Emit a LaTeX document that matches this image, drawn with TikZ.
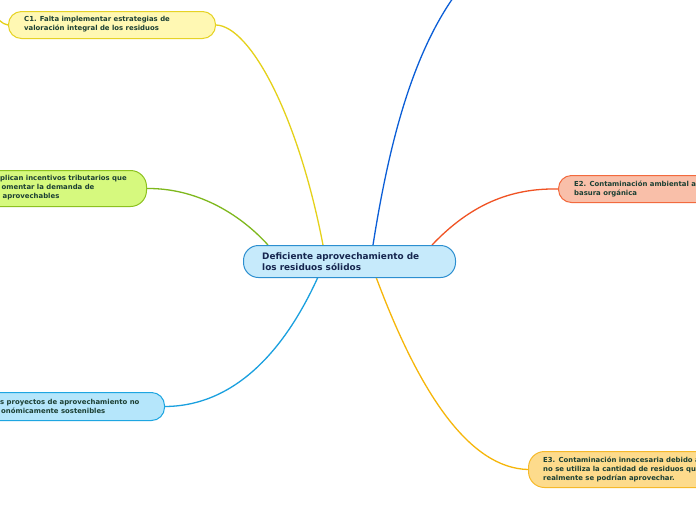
\documentclass[tikz,border=0pt]{standalone}
\usepackage{fontspec}
\setmainfont{DejaVu Sans}
\definecolor{txt}{HTML}{1B3F33}
\definecolor{maintxt}{HTML}{16264F}
\definecolor{cOneFill}{HTML}{FFF8B3}
\definecolor{cOneLine}{HTML}{E6D325}
\definecolor{cOneConn}{HTML}{E5D11A}
\definecolor{grFill}{HTML}{D6F97E}
\definecolor{grLine}{HTML}{8DC21F}
\definecolor{grConn}{HTML}{7EB81C}
\definecolor{mainFill}{HTML}{C6EAFB}
\definecolor{mainLine}{HTML}{2C8FD0}
\definecolor{eTwoFill}{HTML}{F9BFA9}
\definecolor{eTwoLine}{HTML}{F26A3E}
\definecolor{eTwoConn}{HTML}{F05223}
\definecolor{blFill}{HTML}{B5E6FB}
\definecolor{blLine}{HTML}{1EA6E1}
\definecolor{blConn}{HTML}{1AA0DF}
\definecolor{eThFill}{HTML}{FDDB8C}
\definecolor{eThLine}{HTML}{F6B92A}
\definecolor{eThConn}{HTML}{F6B60A}
\definecolor{dkConn}{HTML}{0B5ED7}
\tikzset{
  box/.style={rounded corners=13pt, line width=1pt, inner sep=0pt},
  childtxt/.style={font=\fontsize{6.9}{9}\selectfont\bfseries, text=txt, align=left, inner sep=0pt},
  maintext/.style={font=\fontsize{8.9}{11}\selectfont\bfseries, text=maintxt, align=left, inner sep=0pt},
  conn/.style={line width=1.3pt}
}
\begin{document}
\begin{tikzpicture}[x=1pt,y=-1pt]
\useasboundingbox (0,0) rectangle (696,520);
\clip (0,0) rectangle (696,520);
\fill[white] (0,0) rectangle (696,520);
% boxes
\node[box, draw=cOneLine, fill=cOneFill, minimum width=207pt, minimum height=27pt, anchor=north west] (c1) at (8,11) {};
\node[box, rounded corners=16pt, draw=grLine, fill=grFill, minimum width=207pt, minimum height=36pt, anchor=north east] (c2) at (147,170) {};
\node[box, draw=eTwoLine, fill=eTwoFill, minimum width=207pt, minimum height=27pt, anchor=north west] (e2) at (558,175) {};
\node[box, draw=blLine, fill=blFill, minimum width=207pt, minimum height=28pt, anchor=north east] (c3) at (165,392) {};
\node[box, rounded corners=16pt, draw=eThLine, fill=eThFill, minimum width=207pt, minimum height=36pt, anchor=north west] (e3) at (528,451) {};
% texts
\node[childtxt, anchor=west] (c1t) at (24,24.5) {C1. Falta implementar estrategias de\\valoración integral de los residuos};
\node[childtxt, anchor=west] (c2t) at (0,188) {plican incentivos tributarios que\\\hspace*{1.5pt}omentar la demanda de\\\hspace*{2.5pt}aprovechables};
\node[childtxt, anchor=west] (e2t) at (574,188.5) {E2. Contaminación ambiental a\\basura orgánica};
\node[childtxt, anchor=west] (c3t) at (0,406) {s proyectos de aprovechamiento no\\\hspace*{1pt}onómicamente sostenibles};
\node[childtxt, anchor=west] (e3t) at (543,469) {E3. Contaminación innecesaria debido a\\no se utiliza la cantidad de residuos que\\realmente se podrían aprovechar.};
% connectors
\coordinate (topend) at (453,-2);
\coordinate (c1stub) at (-1,20);
\coordinate (mC1) at (323,245);
\coordinate (mC2) at (268,245);
\coordinate (mC3) at (318,277);
\coordinate (mE1) at (373,245);
\coordinate (mE2) at (432,245);
\coordinate (mE3) at (376,277);
\draw[conn, cOneConn] (c1.west) .. controls (4,24) .. (c1stub);
\draw[conn, cOneConn] (c1.east) .. controls (250,26) and (298,115) .. (mC1);
\draw[conn, grConn] (c2.east) .. controls (195,188) and (238,212) .. (mC2);
\draw[conn, blConn] (c3.east) .. controls (235,406) and (285,350) .. (mC3);
\draw[conn, dkConn] (mE1) .. controls (388,150) and (410,60) .. (topend);
\draw[conn, eTwoConn] (mE2) .. controls (470,205) and (510,188) .. (e2.west);
\draw[conn, eThConn] (mE3) .. controls (420,395) and (470,468) .. (e3.west);
% main node over connectors
\node[box, rounded corners=15pt, draw=mainLine, fill=mainFill, minimum width=212pt, minimum height=32pt, anchor=north west] (m) at (243,245) {};
\node[maintext, anchor=west] (mt) at (262,261.5) {Deficiente aprovechamiento de\\los residuos sólidos};
\end{tikzpicture}
\end{document}
